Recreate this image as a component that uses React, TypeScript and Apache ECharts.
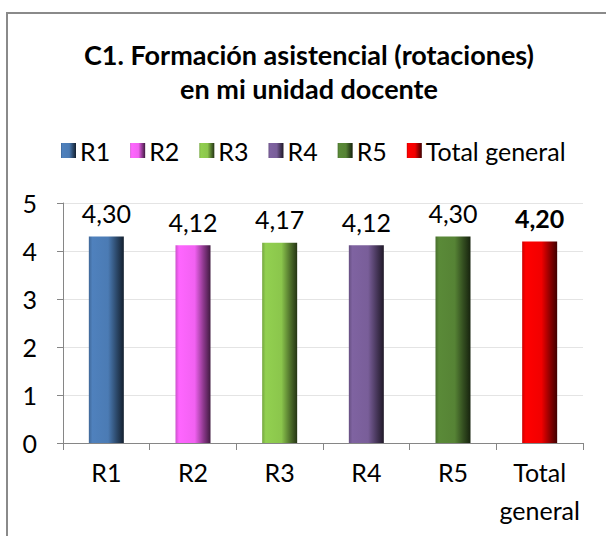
import React, { useEffect, useRef } from "react";
import * as echarts from "echarts";

const categories = ["R1", "R2", "R3", "R4", "R5", "Total general"];
const values = [4.3, 4.12, 4.17, 4.12, 4.3, 4.2];
const colors = ["#4F81BD", "#FF66FF", "#92D050", "#7F63A1", "#5A8A38", "#FF0000"];
const yTicks = { min: 0, max: 5, interval: 1 };
const titleLines = ["C1. Formación asistencial (rotaciones)", "en mi unidad docente"];

const FONT = "Lato, 'Open Sans', sans-serif";

function shade(hex: string, f: number): string {
  const n = parseInt(hex.slice(1), 16);
  let r = (n >> 16) & 255, g = (n >> 8) & 255, b = n & 255;
  if (f < 0) {
    r = Math.round(r * (1 + f)); g = Math.round(g * (1 + f)); b = Math.round(b * (1 + f));
  } else {
    r = Math.round(r + (255 - r) * f); g = Math.round(g + (255 - g) * f); b = Math.round(b + (255 - b) * f);
  }
  return `rgb(${r},${g},${b})`;
}

function barGradient(c: string) {
  return new echarts.graphic.LinearGradient(0, 0, 1, 0, [
    { offset: 0, color: shade(c, -0.2) },
    { offset: 0.1, color: c },
    { offset: 0.55, color: shade(c, -0.05) },
    { offset: 0.8, color: shade(c, -0.45) },
    { offset: 1, color: shade(c, -0.75) },
  ]);
}

export default function App() {
  const ref = useRef<HTMLDivElement>(null);
  useEffect(() => {
    if (!ref.current) return;
    const chart = echarts.init(ref.current, null, { renderer: "svg" });
    const series = categories.map((name, i) => ({
      name,
      type: "bar",
      stack: "all",
      barWidth: 35,
      data: values.map((v, j) => (j === i ? v : null)),
      itemStyle: { color: barGradient(colors[i]) },
      label: {
        show: true,
        position: "top",
        distance: 11,
        fontFamily: FONT,
        fontSize: 25,
        fontWeight: i === categories.length - 1 ? "bold" : "normal",
        color: "#000",
        formatter: (p: any) => Number(p.value).toFixed(2).replace(".", ","),
      },
    }));
    chart.setOption({
      animation: false,
      backgroundColor: "#fff",
      title: {
        text: titleLines.join("\n"),
        left: 309,
        textAlign: "center",
        top: 37,
        padding: 0,
        textStyle: {
          fontFamily: FONT,
          fontSize: 27,
          fontWeight: "bold",
          color: "#000",
          lineHeight: 34,
        },
      },
      legend: {
        data: categories,
        left: 56,
        top: 133,
        icon: "rect",
        itemWidth: 15,
        itemHeight: 15,
        itemGap: 20,
        textStyle: { fontFamily: FONT, fontSize: 25, color: "#000", padding: [0, 0, 0, -1] },
      },
      grid: { left: 63, right: 23, top: 203, bottom: 93, containLabel: false },
      xAxis: {
        type: "category",
        data: categories,
        axisLine: { lineStyle: { color: "#868686", width: 1 } },
        axisTick: { show: true, length: 7, lineStyle: { color: "#868686" } },
        axisLabel: {
          interval: 0,
          fontFamily: FONT,
          fontSize: 25,
          color: "#000",
          margin: 10,
          lineHeight: 38,
          formatter: (v: string) => v.replace(" ", "\n"),
        },
      },
      yAxis: {
        type: "value",
        min: yTicks.min,
        max: yTicks.max,
        interval: yTicks.interval,
        axisLine: { show: true, lineStyle: { color: "#868686", width: 1 } },
        axisTick: { show: true, length: 6, lineStyle: { color: "#868686" } },
        splitLine: { show: true, lineStyle: { color: "#e4e4e4", width: 1 } },
        axisLabel: { fontFamily: FONT, fontSize: 25, color: "#000", margin: 26 },
      },
      graphic: [
        {
          type: "rect",
          shape: { x: 7, y: 13, width: 640, height: 600 },
          style: { fill: "none", stroke: "#8a8a8a", lineWidth: 2 },
          silent: true,
          z: 100,
        },
      ],
      series,
    });
    return () => chart.dispose();
  }, []);
  return (
    <div
      ref={ref}
      style={{ position: "absolute", left: 0, top: 0, width: 606, height: 536 }}
    />
  );
}
